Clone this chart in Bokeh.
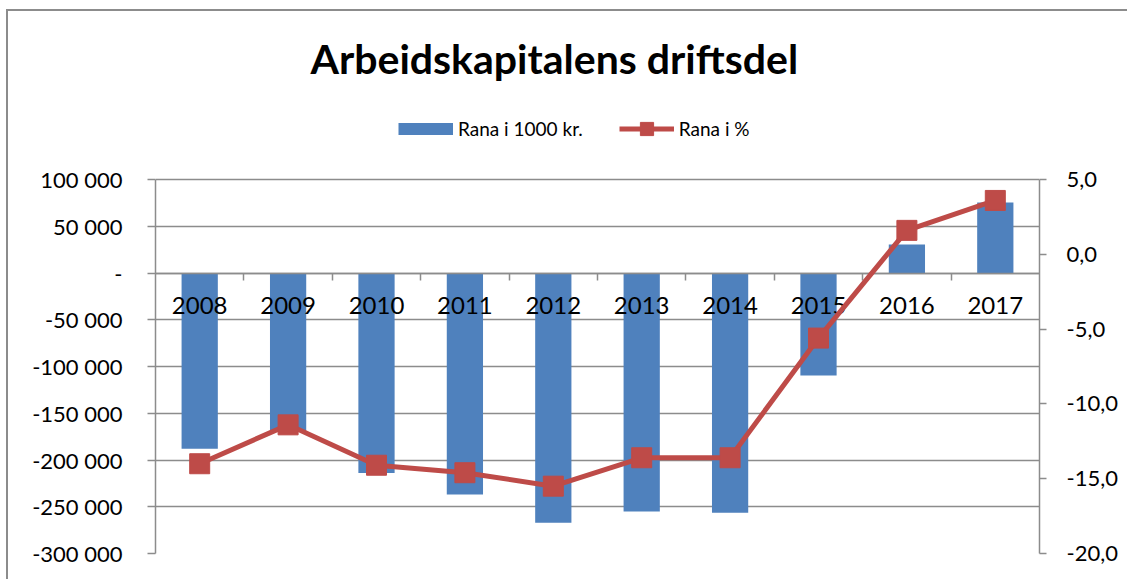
from bokeh.plotting import figure
from bokeh.models import (Range1d, LinearAxis, FixedTicker, Legend, LegendItem)
from bokeh.embed import file_html
from bokeh.resources import INLINE

# ---- data -------------------------------------------------------------
years = ["2008", "2009", "2010", "2011", "2012", "2013", "2014", "2015", "2016", "2017"]
amount_1000kr = [-188000, -170000, -214000, -237000, -267000, -255000, -256500, -109600, 30500, 75400]
percent = [-14.0, -11.4, -14.1, -14.6, -15.5, -13.6, -13.6, -5.6, 1.6, 3.6]

left_ticks = [-300000, -250000, -200000, -150000, -100000, -50000, 0, 50000, 100000]
left_labels = ["-300 000", "-250 000", "-200 000", "-150 000", "-100 000", "-50 000", "-", "50 000", "100 000"]
right_ticks = [-20, -15, -10, -5, 0, 5]
right_labels = ["-20,0", "-15,0", "-10,0", "-5,0", "0,0", "5,0"]

title_text = "Arbeidskapitalens driftsdel"
bar_label = "Rana i 1000 kr."
line_label = "Rana i %"

# category slots (index of each year)
idx = list(range(len(years)))
boundaries = [i + 0.5 for i in idx[:-1]]

# ---- style / layout ---------------------------------------------------
FONT = "Lato"
GRAY = "#8c8c8c"
BLUE = "#4F81BD"
RED = "#BE4B48"

W, H = 1127, 579
FRAME_LEFT, FRAME_RIGHT = 155, 1039
FRAME_TOP, AXIS_TOP, AXIS_BOTTOM = 96, 179, 553
headroom = (AXIS_TOP - FRAME_TOP) / (AXIS_BOTTOM - AXIS_TOP)

l_span = left_ticks[-1] - left_ticks[0]
r_span = right_ticks[-1] - right_ticks[0]

p = figure(width=W, height=H,
           x_range=Range1d(-0.5, len(years) - 0.5),
           y_range=Range1d(left_ticks[0], left_ticks[-1] + l_span * headroom),
           x_axis_location=None, y_axis_location="left",
           output_backend="svg", toolbar_location=None,
           min_border_left=FRAME_LEFT, min_border_right=W - FRAME_RIGHT,
           min_border_top=FRAME_TOP, min_border_bottom=H - AXIS_BOTTOM)
p.outline_line_color = None
p.background_fill_color = "white"
p.border_fill_color = None
p.styles = {"background": (
    "linear-gradient(#8c8c8c, #8c8c8c) 6px 9px / 2px calc(100% - 9px) no-repeat, "
    "linear-gradient(#8c8c8c, #8c8c8c) 6px 9px / calc(100% - 6px) 2px no-repeat, "
    "#ffffff")}
p.xgrid.visible = False

p.extra_y_ranges = {"pct": Range1d(right_ticks[0], right_ticks[-1] + r_span * headroom)}

# title
p.title.text = title_text
p.title.text_font = FONT
p.title.text_font_size = "41px"
p.title.text_font_style = "bold"
p.title.text_color = "black"
p.title.align = "left"
p.title.offset = 155
p.title.standoff = 28

# left axis
lt = FixedTicker(ticks=left_ticks)
ya = p.yaxis[0]
ya.ticker = lt
ya.bounds = (left_ticks[0], left_ticks[-1])
ya.major_label_overrides = {t: s for t, s in zip(left_ticks, left_labels)}
ya.axis_line_color = GRAY
ya.axis_line_width = 1.5
ya.major_tick_line_color = GRAY
ya.major_tick_line_width = 1.5
ya.major_tick_out = 8
ya.major_tick_in = 0
ya.minor_tick_line_color = None
ya.major_label_standoff = 25
ya.major_label_text_font = FONT
ya.major_label_text_font_size = "22px"
ya.major_label_text_color = "black"

p.ygrid[0].ticker = lt
p.ygrid[0].grid_line_color = GRAY
p.ygrid[0].grid_line_width = 1.5

# right axis
ra = LinearAxis(y_range_name="pct", ticker=FixedTicker(ticks=right_ticks))
ra.bounds = (right_ticks[0], right_ticks[-1])
ra.major_label_overrides = {t: s for t, s in zip(right_ticks, right_labels)}
ra.axis_line_color = GRAY
ra.axis_line_width = 1.5
ra.major_tick_line_color = GRAY
ra.major_tick_line_width = 1.5
ra.major_tick_out = 7
ra.major_tick_in = 0
ra.minor_tick_line_color = None
ra.major_label_standoff = 20
ra.major_label_text_font = FONT
ra.major_label_text_font_size = "22px"
ra.major_label_text_color = "black"
p.add_layout(ra, "right")

# x axis at zero: tick marks between categories
ta = LinearAxis(fixed_location=0, ticker=FixedTicker(ticks=boundaries))
ta.axis_line_color = GRAY
ta.axis_line_width = 1.5
ta.major_tick_line_color = GRAY
ta.major_tick_line_width = 1.5
ta.major_tick_out = 7
ta.major_tick_in = 0
ta.minor_tick_line_color = None
ta.major_label_text_font_size = "0px"
ta.major_label_text_alpha = 0
p.add_layout(ta, "below")

# year labels at category centres
ca = LinearAxis(fixed_location=0, ticker=FixedTicker(ticks=idx))
ca.major_label_overrides = {i: y for i, y in zip(idx, years)}
ca.axis_line_color = None
ca.major_tick_line_color = None
ca.minor_tick_line_color = None
ca.major_tick_out = 0
ca.major_tick_in = 0
ca.major_label_standoff = 24
ca.major_label_text_font = FONT
ca.major_label_text_font_size = "24px"
ca.major_label_text_color = "black"
p.add_layout(ca, "below")

# bars
bars = p.vbar(x=idx, top=amount_1000kr, bottom=0, width=0.41,
              fill_color=BLUE, line_color=None)

# line + markers
ln = p.line(x=idx, y=percent, y_range_name="pct", line_color=RED,
            line_width=5, level="overlay")
mk = p.scatter(x=idx, y=percent, y_range_name="pct", marker="square",
               size=20, fill_color=RED, line_color=RED, level="overlay")

# legend swatch for the bars (thick line = flat rectangle; NaN so nothing is plotted)
nan = float("nan")
bar_swatch = p.line(x=[nan, nan], y=[nan, nan], line_color=BLUE,
                    line_width=12, line_cap="butt")

leg = Legend(items=[LegendItem(label=bar_label, renderers=[bar_swatch]),
                    LegendItem(label=line_label, renderers=[ln, mk])],
             orientation="horizontal",
             location=(398 - FRAME_LEFT, AXIS_BOTTOM - 145),
             glyph_width=55, glyph_height=33, label_standoff=5, spacing=36,
             label_text_font=FONT, label_text_font_size="19px",
             label_text_color="black",
             padding=0, margin=0, border_line_color=None,
             background_fill_alpha=0)
p.add_layout(leg, "center")

open("out.html", "w").write(file_html(p, INLINE))
